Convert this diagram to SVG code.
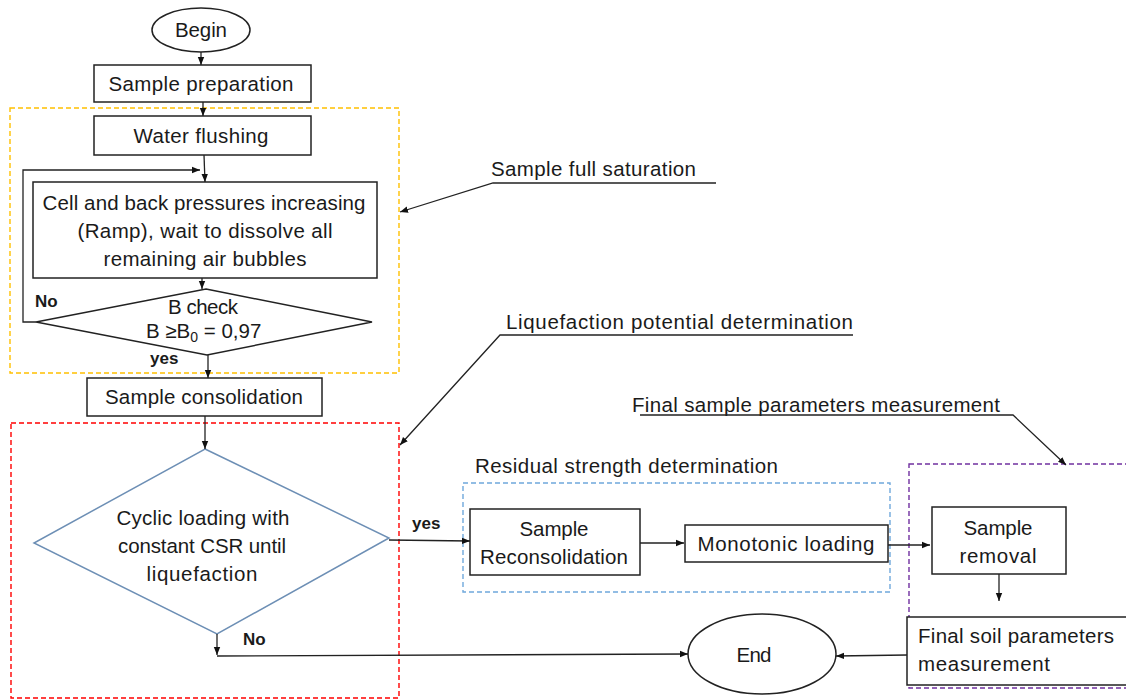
<svg xmlns="http://www.w3.org/2000/svg" width="1126" height="700" viewBox="0 0 1126 700">
<defs>
<style>
text{font-family:"Liberation Sans",Arial,sans-serif;font-size:20.5px;fill:#1a1a1a}
.b{font-weight:bold;font-size:17px}
.box{fill:#fff;stroke:#222;stroke-width:1.5}
.ln{fill:none;stroke:#222;stroke-width:1.3}
.grp{fill:none;stroke-width:1.4;stroke-dasharray:5 3}
</style>
<marker id="ah" viewBox="0 0 10 10" refX="10" refY="5" markerWidth="8" markerHeight="8" markerUnits="userSpaceOnUse" orient="auto"><path d="M0,1 L10,5 L0,9 z" fill="#111"/></marker>
</defs>
<rect width="1126" height="700" fill="#fff"/>
<g id="groups">
<rect class="grp" x="10" y="108" width="389" height="265" stroke="#ffc000"/>
<rect class="grp" x="11" y="423" width="388" height="275" stroke="#ff0000"/>
<rect class="grp" x="463" y="483" width="427" height="109" stroke="#6fa8dc"/>
<rect class="grp" x="909" y="464" width="230" height="224" stroke="#7030a0"/>
</g>
<g id="begin"><ellipse cx="201" cy="30" rx="49" ry="22" class="box"/><text x="201" y="37" text-anchor="middle" textLength="52">Begin</text></g>
<g id="prep"><rect x="94" y="65" width="217" height="37" class="box"/><text x="201" y="91" text-anchor="middle" textLength="185">Sample preparation</text></g>
<g id="flush"><rect x="94" y="116" width="217" height="39" class="box"/><text x="201" y="143" text-anchor="middle" textLength="135">Water flushing</text></g>
<g id="pressure"><rect x="33" y="182" width="344" height="96" class="box"/>
<text x="204" y="210" text-anchor="middle" textLength="323">Cell and back pressures increasing</text>
<text x="205" y="238" text-anchor="middle" textLength="255">(Ramp), wait to dissolve all</text>
<text x="205" y="266" text-anchor="middle" textLength="203">remaining air bubbles</text></g>
<g id="bcheck"><polygon points="206,289 372,322 207,355 36,322" class="box"/>
<text x="203" y="314" text-anchor="middle" textLength="70">B check</text>
<text x="146" y="338">B ≥B<tspan font-size="14" dy="4">0</tspan><tspan dy="-4"> = 0,97</tspan></text></g>
<g id="consol"><rect x="87" y="378" width="235" height="38" class="box"/><text x="204" y="404" text-anchor="middle" textLength="198">Sample consolidation</text></g>
<g id="cyclic"><polygon points="205,449 389,538 217,634 34,543" fill="#fff" stroke="#6d8fb5" stroke-width="1.5"/>
<text x="203" y="525" text-anchor="middle" textLength="173">Cyclic loading with</text>
<text x="202" y="553" text-anchor="middle" textLength="168">constant  CSR until</text>
<text x="202" y="581" text-anchor="middle" textLength="111">liquefaction</text></g>
<g id="reconsol"><rect x="470" y="509" width="170" height="66" class="box"/>
<text x="554" y="536" text-anchor="middle" textLength="69">Sample</text>
<text x="554" y="564" text-anchor="middle" textLength="148">Reconsolidation</text></g>
<g id="mono"><rect x="685" y="525" width="203" height="37" class="box"/><text x="786" y="551" text-anchor="middle" textLength="177">Monotonic loading</text></g>
<g id="removal"><rect x="932" y="507" width="134" height="67" class="box"/>
<text x="998" y="535" text-anchor="middle" textLength="69">Sample</text>
<text x="998" y="563" text-anchor="middle" textLength="77">removal</text></g>
<g id="finalsoil"><rect x="907" y="617" width="230" height="68" class="box"/>
<text x="918" y="643" textLength="196">Final soil parameters</text>
<text x="918" y="671" textLength="132">measurement</text></g>
<g id="end"><ellipse cx="762" cy="654" rx="74" ry="40" class="box"/><text x="754" y="662" text-anchor="middle" textLength="35">End</text></g>
<g id="labels">
<text x="491" y="176" textLength="205">Sample full saturation</text>
<text x="506" y="329" textLength="347">Liquefaction potential determination</text>
<text x="632" y="412" textLength="368">Final sample parameters measurement</text>
<text x="475" y="473" textLength="303">Residual strength determination</text>
<text class="b" x="35" y="307">No</text>
<text class="b" x="150" y="364">yes</text>
<text class="b" x="412" y="529">yes</text>
<text class="b" x="243" y="645">No</text>
</g>
<g id="connectors">
<line class="ln" x1="201" y1="52" x2="201" y2="65" marker-end="url(#ah)"/>
<line class="ln" x1="203" y1="102" x2="203" y2="116" marker-end="url(#ah)"/>
<line class="ln" x1="204" y1="155" x2="205" y2="182" marker-end="url(#ah)"/>
<polyline class="ln" points="36,322 23,322 23,170 200,170" marker-end="url(#ah)"/>
<line class="ln" x1="202" y1="278" x2="202" y2="289" marker-end="url(#ah)"/>
<line class="ln" x1="208" y1="355" x2="208" y2="378" marker-end="url(#ah)"/>
<line class="ln" x1="205" y1="416" x2="205" y2="449" marker-end="url(#ah)"/>
<line class="ln" x1="217" y1="634" x2="217" y2="655" marker-end="url(#ah)"/>
<line class="ln" x1="217" y1="656" x2="688" y2="654" marker-end="url(#ah)"/>
<line class="ln" x1="389" y1="540" x2="470" y2="541" marker-end="url(#ah)"/>
<line class="ln" x1="640" y1="543" x2="684" y2="543" marker-end="url(#ah)"/>
<line class="ln" x1="888" y1="545" x2="930" y2="545" marker-end="url(#ah)"/>
<line class="ln" x1="999" y1="574" x2="999" y2="601" marker-end="url(#ah)"/>
<line class="ln" x1="907" y1="655" x2="836" y2="656" marker-end="url(#ah)"/>
<polyline class="ln" points="716,183 493,183 400,212" marker-end="url(#ah)"/>
<polyline class="ln" points="853,335 500,335 400,445" marker-end="url(#ah)"/>
<polyline class="ln" points="640,415 1013,415 1066,465" marker-end="url(#ah)"/>
</g>
</svg>
